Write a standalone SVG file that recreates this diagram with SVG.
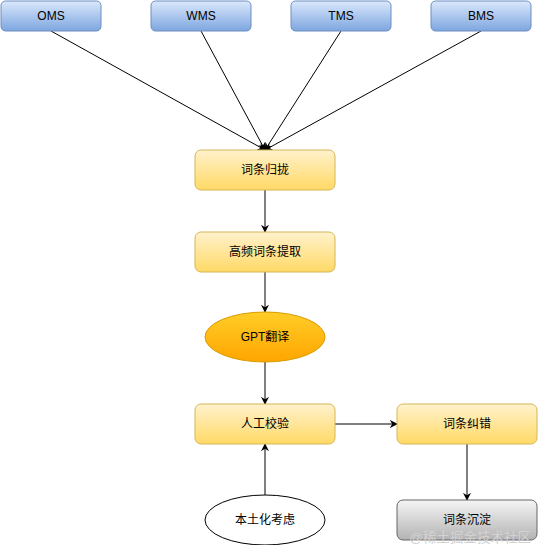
<svg xmlns="http://www.w3.org/2000/svg" width="538" height="545" viewBox="0 0 538 545">
<style>
text{font-family:"Liberation Sans","Noto Sans CJK SC",sans-serif;font-size:12px;fill:#000;text-anchor:middle;dominant-baseline:central}
.blue{fill:url(#gBlue);stroke:#6c8ebf}
.yel{fill:url(#gYel);stroke:#d6b656}
.org{fill:url(#gOrg);stroke:#d79b00}
.gray{fill:url(#gGray);stroke:#666666}
.wht{fill:#fff;stroke:#000}
.edge{fill:none;stroke:#000;stroke-width:1;marker-end:url(#arr)}
.wm{font-size:13.5px;fill:#d2d2d2;text-anchor:end}
</style>
<defs>
<linearGradient id="gBlue" x1="0" y1="0" x2="0" y2="1"><stop offset="0" stop-color="#dae8fc"/><stop offset="1" stop-color="#7ea6e0"/></linearGradient>
<linearGradient id="gYel" x1="0" y1="0" x2="0" y2="1"><stop offset="0" stop-color="#fff2cc"/><stop offset="1" stop-color="#ffd966"/></linearGradient>
<linearGradient id="gOrg" x1="0" y1="0" x2="0" y2="1"><stop offset="0" stop-color="#ffcd28"/><stop offset="1" stop-color="#ffa500"/></linearGradient>
<linearGradient id="gGray" x1="0" y1="0" x2="0" y2="1"><stop offset="0" stop-color="#f5f5f5"/><stop offset="1" stop-color="#b3b3b3"/></linearGradient>
<marker id="arr" viewBox="0 0 10 10" refX="9" refY="5" markerWidth="8" markerHeight="8" orient="auto" markerUnits="userSpaceOnUse">
<path d="M0,0 L10,5 L0,10 L3,5 Z" fill="#000"/>
</marker>
</defs>
<g id="connectors">
<line class="edge" x1="51" y1="31" x2="265" y2="150"/>
<line class="edge" x1="201" y1="31" x2="265" y2="150"/>
<line class="edge" x1="341" y1="31" x2="265" y2="150"/>
<line class="edge" x1="481" y1="31" x2="265" y2="150"/>
<line class="edge" x1="265" y1="190" x2="265" y2="232"/>
<line class="edge" x1="265" y1="272" x2="265" y2="312"/>
<line class="edge" x1="265" y1="362" x2="265" y2="404"/>
<line class="edge" x1="335" y1="424" x2="397" y2="424"/>
<line class="edge" x1="467" y1="444" x2="467" y2="500"/>
<line class="edge" x1="265" y1="495" x2="265" y2="444"/>
</g>
<g id="oms"><rect class="blue" x="1" y="1" width="100" height="30" rx="4.5"/><text x="51" y="16">OMS</text></g>
<g id="wms"><rect class="blue" x="151" y="1" width="100" height="30" rx="4.5"/><text x="201" y="16">WMS</text></g>
<g id="tms"><rect class="blue" x="291" y="1" width="100" height="30" rx="4.5"/><text x="341" y="16">TMS</text></g>
<g id="bms"><rect class="blue" x="431" y="1" width="100" height="30" rx="4.5"/><text x="481" y="16">BMS</text></g>
<g id="guilong"><rect class="yel" x="195" y="150" width="140" height="40" rx="6"/><text x="265" y="170">词条归拢</text></g>
<g id="tiqu"><rect class="yel" x="195" y="232" width="140" height="40" rx="6"/><text x="265" y="252">高频词条提取</text></g>
<g id="gpt"><ellipse class="org" cx="265" cy="337" rx="60" ry="25"/><text x="265" y="337">GPT翻译</text></g>
<g id="jiaoyan"><rect class="yel" x="195" y="404" width="140" height="40" rx="6"/><text x="265" y="424">人工校验</text></g>
<g id="jiucuo"><rect class="yel" x="397" y="404" width="140" height="40" rx="6"/><text x="467" y="424">词条纠错</text></g>
<g id="chendian"><rect class="gray" x="397" y="500" width="140" height="40" rx="6"/><text x="467" y="520">词条沉淀</text></g>
<g id="bentu"><ellipse class="wht" cx="265" cy="520" rx="60" ry="25"/><text x="265" y="520">本土化考虑</text></g>
<text class="wm" x="531" y="537">@稀土掘金技术社区</text>
</svg>
